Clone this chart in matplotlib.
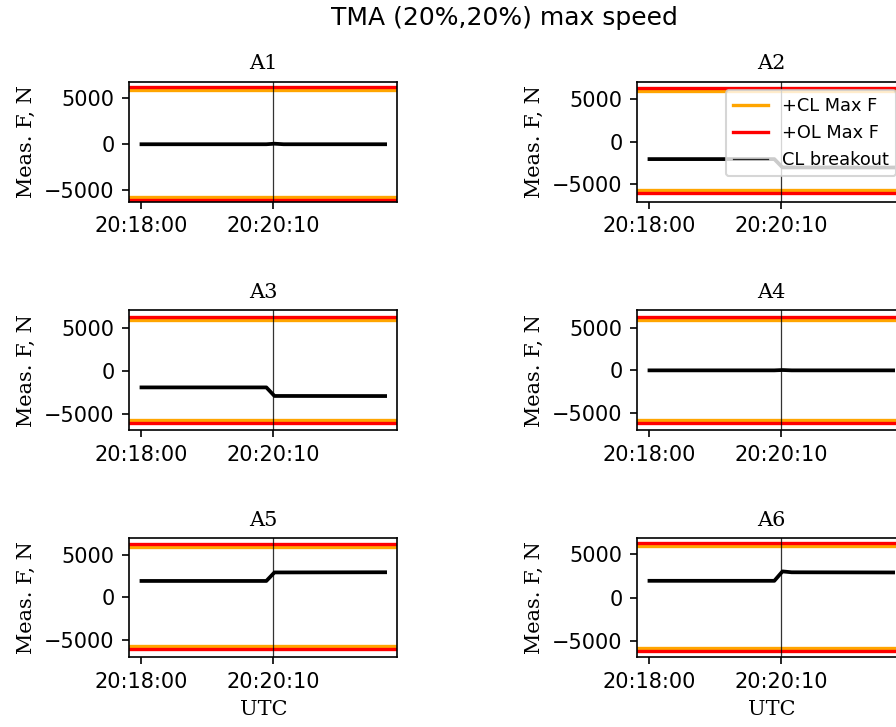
import datetime as dt
import matplotlib
matplotlib.use('Agg')
import matplotlib.pyplot as plt
import matplotlib.dates as mdates

# ── data ────────────────────────────────────────────────
TITLE = "TMA (20%,20%) max speed"
NAMES = ["A1", "A2", "A3", "A4", "A5", "A6"]

TIMES = ["20:18:00", "20:20:03", "20:20:11", "20:20:20", "20:22:00"]
FORCES = {
    "A1": [0, 0, 60, 0, 0],
    "A2": [-2070, -2070, -3050, -3050, -3060],
    "A3": [-1950, -1950, -2950, -2950, -2960],
    "A4": [0, 0, 40, 0, 0],
    "A5": [1900, 1900, 2900, 2900, 2920],
    "A6": [1920, 1920, 3000, 2900, 2880],
}
YLIMS = {
    "A1": (-6250, 6850),
    "A2": (-7060, 7060),
    "A3": (-6960, 7090),
    "A4": (-7000, 7050),
    "A5": (-7060, 6940),
    "A6": (-6870, 6840),
}

CL_MAX = 5890      # +/- closed loop max force
CL_MIN = -5760
OL_MAX = 6270      # +/- open loop max force
OL_MIN = -6100
BREAKOUT = "20:20:10"
XTICKS = ["20:18:00", "20:20:10"]
YTICKS = [-5000, 0, 5000]


def to_dt(s):
    h, m, sec = map(int, s.split(":"))
    return dt.datetime(2023, 1, 1, h, m, sec)


# ── figure ──────────────────────────────────────────────
W, H, DPI = 896, 727, 150
fig = plt.figure(figsize=(W / DPI, H / DPI), dpi=DPI)
fig.text(504.5 / W, 1 - 18 / H, TITLE, ha="center", va="center", fontsize=12)

col_x = [129.3, 637.3]
row_y = [(81.5, 201.5), (310.0, 430.3), (538.0, 657.3)]
ax_w = 268.0

t = [to_dt(s) for s in TIMES]
t_brk = to_dt(BREAKOUT)
serif = "DejaVu Serif"

for i, name in enumerate(NAMES):
    r, c = divmod(i, 2)
    y0, y1 = row_y[r]
    ax = fig.add_axes([col_x[c] / W, 1 - y1 / H, ax_w / W, (y1 - y0) / H])

    ax.axhline(CL_MAX, color="orange", lw=1.6, label="+CL Max F")
    ax.axhline(OL_MAX, color="red", lw=1.6, label="+OL Max F")
    ax.axhline(CL_MIN, color="orange", lw=1.6)
    ax.axhline(OL_MIN, color="red", lw=1.6)
    ax.plot(t, FORCES[name], color="black", lw=1.8)
    ax.axvline(t_brk, color="black", lw=0.6, alpha=0.8, label="CL breakout")

    ax.set_ylim(*YLIMS[name])
    ax.set_yticks(YTICKS)
    ax.set_xticks([to_dt(s) for s in XTICKS])
    ax.xaxis.set_major_formatter(mdates.DateFormatter("%H:%M:%S"))
    ax.set_title(name, family=serif, fontsize=10)
    ax.set_ylabel("Meas. F, N", family=serif, fontsize=10)
    if r == 2:
        ax.set_xlabel("UTC", family=serif, fontsize=10)
    if name == "A2":
        ax.legend(loc="upper right", fontsize=8.5)

plt.savefig("out.png", dpi=DPI)
